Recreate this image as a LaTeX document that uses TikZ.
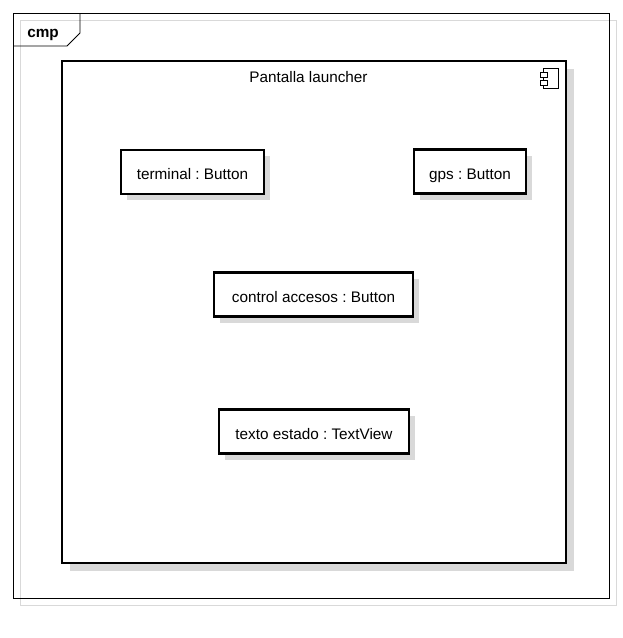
\documentclass[tikz,border=0pt]{standalone}
\usepackage{fontspec}
\setmainfont{Liberation Sans}
\usetikzlibrary{positioning,shadows}

\begin{document}
\frenchspacing
\begin{tikzpicture}[x=1pt,y=-1pt]
                        \tikzstyle{every node}=[font=\fontsize{15.3}{18}\selectfont,inner sep=0,text height=15,text depth=0]
                        \tikzstyle{part}=[draw,line width=2.8pt,rectangle,fill=white,minimum height=44,
                            drop shadow={shadow xshift=6pt,shadow yshift=-6pt,fill=black!15,opacity=1}]
                        \tikzstyle{comp}=[draw,line width=2.8pt,rectangle,fill=white,
                            minimum width=504,minimum height=502,
                            drop shadow={shadow xshift=8pt,shadow yshift=-8pt,fill=black!15,opacity=1}]
                        \tikzstyle{note}=[draw=none]
                        \tikzstyle{frame}=[draw,line width=0.8pt]
                        {
                            \useasboundingbox (0,0) rectangle (622,638);

                            % diagram frame
                            \draw[black!15,line width=0.8pt] (20,20) rectangle (616,605);
                            \draw[frame] (13,13) rectangle (609,598);
                            \draw[frame] (13,46) -- (67,46) -- (80,33) -- (80,13);
                            \node[note,font=\fontsize{15.3}{18}\selectfont\bfseries] (cmp) at (43,29.5) {cmp};

                            \node[comp] (launcher) at (314,312) {};
                            \node[note] (title) at (308.5,75) {Pantalla launcher};

                            % component icon
                            \draw[line width=0.8pt] (543,68) rectangle (558,88);
                            \draw[line width=0.8pt,fill=white] (540,72) rectangle (547,77);
                            \draw[line width=0.8pt,fill=white] (540,80) rectangle (547,85);

                            \node[part,minimum width=143] (terminal) at (192.5,172) {terminal : Button};
                            \node[part,minimum width=112] (gps) at (470,171.5) {gps : Button};
                            \node[part,minimum width=199] (control) at (313.5,294.5) {control accesos : Button};
                            \node[part,minimum width=190] (texto) at (314,431.5) {texto estado : TextView};
                        }
                    \end{tikzpicture}
\end{document}
